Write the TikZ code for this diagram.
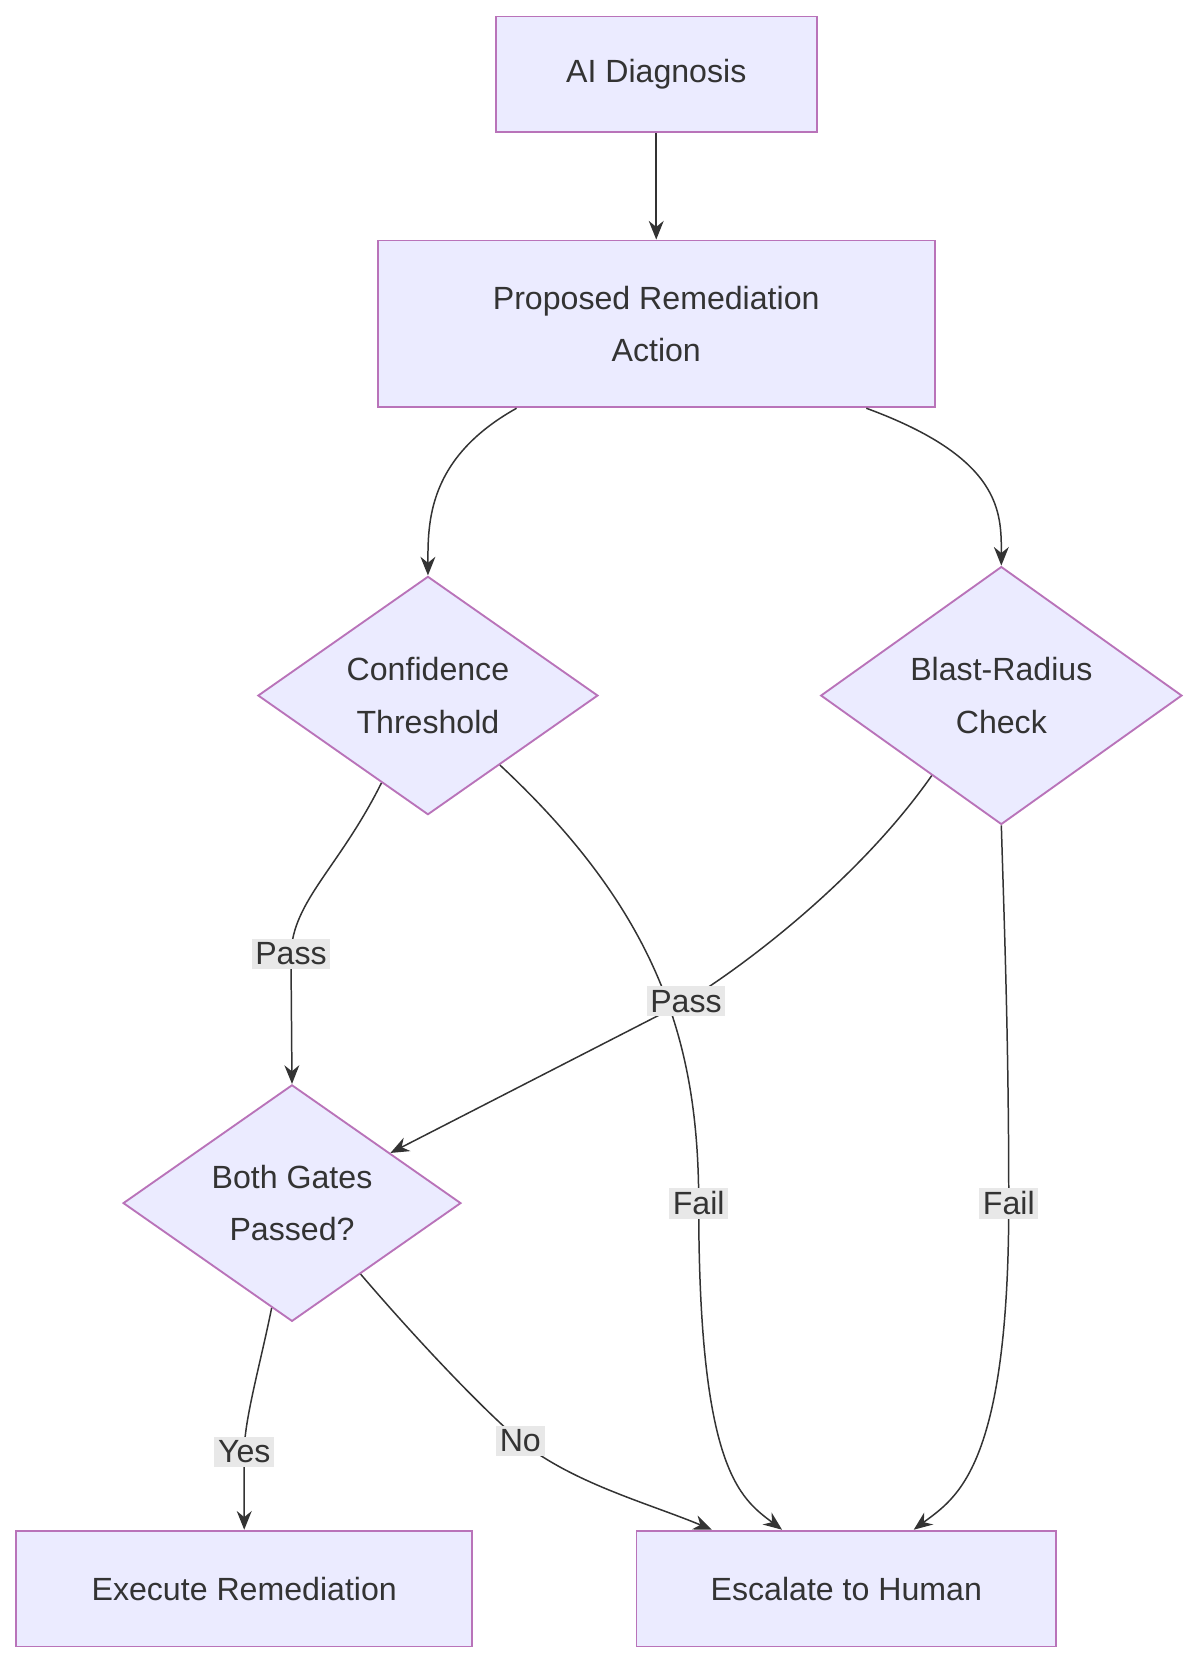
\documentclass[tikz,border=0pt]{standalone}
\usepackage{fontspec}
\setmainfont{Liberation Sans}
\usetikzlibrary{shapes.geometric,arrows.meta,calc}

\begin{document}
\begin{tikzpicture}[x=0.01cm,y=-0.01cm]
\tikzstyle{every node}=[font=\fontsize{8.6}{14}\selectfont, text=black!80, align=center]
\tikzstyle{box}=[rectangle, draw=violet!55, fill=blue!8, line width=0.5pt, inner sep=0pt]
\tikzstyle{gate}=[diamond, draw=violet!55, fill=blue!8, line width=0.5pt, inner sep=0pt, aspect=1]
\tikzstyle{link}=[draw=black!80, line width=0.4pt, -{Stealth[length=5pt,width=4pt]}]
\tikzstyle{lbl}=[fill=black!9, inner sep=1pt]
\useasboundingbox (0,0) rectangle (1130,1568);
\node[box, minimum width=3.02cm, minimum height=1.09cm] (diag) at (618,70) {AI Diagnosis};
\node[box, minimum width=5.24cm, minimum height=1.57cm] (prop) at (618,305) {Proposed Remediation\\Action};
\node[gate, minimum width=3.2cm] (conf) at (403,655) {Confidence\\Threshold};
\node[gate, minimum width=3.4cm] (blast) at (943,655) {Blast-Radius\\Check};
\node[gate, minimum width=3.18cm] (both) at (275,1133) {Both Gates\\Passed?};
\node[box, minimum width=4.29cm, minimum height=1.09cm] (exec) at (230,1496) {Execute Remediation};
\node[box, minimum width=3.95cm, minimum height=1.09cm] (esc) at (797,1496) {Escalate to Human};
% connectors
\draw[link] (diag) -- (prop);
\draw[link] ($(prop.south west)!0.25!(prop.south east)$) .. controls +(-84,47) and +(0,-50) .. (conf.north);
\draw[link] ($(prop.south west)!0.876!(prop.south east)$) .. controls +(128,47) and +(0,-50) .. (blast.north);
\draw[link] (conf.-118) .. controls +(-40,80) and +(2,-50) .. (274,898) node[lbl] {Pass} -- (both.north);
\draw[link] (conf.-44) .. controls +(150,140) and +(0,-150) .. (658,1133) node[lbl] {Fail}
  .. controls +(0,250) and +(-40,-30) .. ($(esc.north west)+(138,0)$);
\draw[link] (blast.-131) .. controls +(-70,100) and +(50,-30) .. (646,943) node[lbl] {Pass} -- (both.27);
\draw[link] (blast.south) .. controls +(3,100) and +(0,-150) .. (950,1133) node[lbl] {Fail}
  .. controls +(0,250) and +(40,-30) .. ($(esc.north west)+(262,0)$);
\draw[link] (both.-101) .. controls +(-10,50) and +(0,-30) .. (230,1367) node[lbl] {Yes} -- (exec.north);
\draw[link] (both.-46) .. controls +(60,70) and +(-30,-25) .. (490,1357) node[lbl] {No}
  .. controls +(50,40) and +(-60,-25) .. ($(esc.north west)+(72,0)$);
\end{tikzpicture}
\end{document}
